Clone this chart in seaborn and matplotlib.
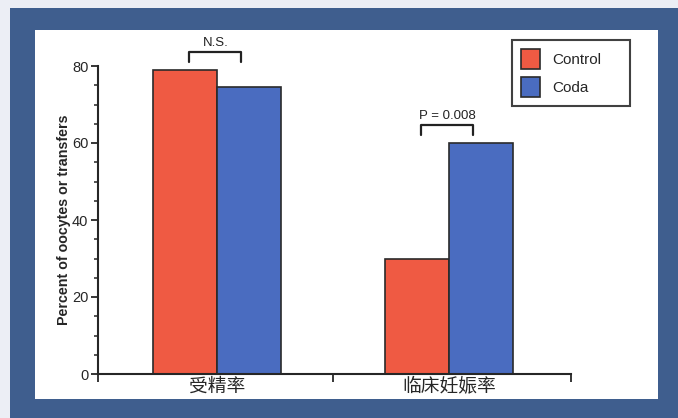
import matplotlib
matplotlib.use("Agg")
import matplotlib.pyplot as plt
from matplotlib.patches import Rectangle
from matplotlib.ticker import MultipleLocator, FixedLocator
import seaborn as sns
import pandas as pd

# data
categories = ["受精率", "临床妊娠率"]
groups = ["Control", "Coda"]
control = [79, 30]
coda = [74.5, 60]
sig_labels = ["N.S.", "P = 0.008"]

sns.set_theme(style="ticks")
plt.rcParams['font.family'] = ['Liberation Sans', 'Noto Sans CJK SC', 'DejaVu Sans']

df = pd.DataFrame({
    "cat": categories * 2,
    "group": [groups[0]] * 2 + [groups[1]] * 2,
    "value": control + coda,
})
pal = {"Control": "#ef5a43", "Coda": "#4a6cc0"}

fig = plt.figure(figsize=(6.78, 4.18), dpi=100, facecolor="#eceef5")
# blue frame and white panel behind the chart
fig.patches.append(Rectangle((10/678, 0), 1 - 10/678, 1 - 8/418, transform=fig.transFigure,
                             facecolor="#3f5e8e", edgecolor="none", zorder=-2))
fig.patches.append(Rectangle((35/678, 19/418), 623/678, 369/418, transform=fig.transFigure,
                             facecolor="white", edgecolor="none", zorder=-1))

ax = fig.add_axes([98/678, 1 - 374/418, 473/678, 308/418])
ax.set_facecolor("none")
sns.barplot(data=df, x="cat", y="value", hue="group", hue_order=groups, order=categories,
            palette=pal, width=0.55, gap=0, saturation=1, edgecolor="#2a2a2a",
            linewidth=1.2, ax=ax)

xlo, xhi = -0.513, 1.526
ax.set_xlim(xlo, xhi)
ax.set_ylim(0, 80)
ax.spines["top"].set_visible(False)
ax.spines["right"].set_visible(False)
ax.spines["left"].set_bounds(0, 80)
ax.spines["left"].set_linewidth(1.5)
ax.spines["bottom"].set_linewidth(1.5)
ax.yaxis.set_major_locator(MultipleLocator(20))
ax.yaxis.set_minor_locator(MultipleLocator(5))
ax.tick_params(axis="y", which="major", length=5, width=1.3, labelsize=10.5, pad=2)
ax.tick_params(axis="y", which="minor", length=3, width=1.1)
ax.tick_params(axis="x", which="major", length=0, labelsize=13.5, pad=3)
ax.xaxis.set_minor_locator(FixedLocator([xlo, 0.5, xhi]))
ax.tick_params(axis="x", which="minor", length=6, width=1.3, direction="out")
ax.set_xlabel("")
ax.set_ylabel("Percent of oocytes or transfers", fontsize=10.3, fontweight="bold", labelpad=1)

# significance brackets
for i, lab in enumerate(sig_labels):
    top = max(control[i], coda[i])
    x0, x1 = i - 0.12, i + 0.105
    ax.plot([x0, x0, x1, x1], [top + 2, top + 4.6, top + 4.6, top + 2],
            color="#222222", lw=1.6, clip_on=False)
    ax.text((x0 + x1) / 2, top + 6.9, lab, ha="center", va="center", fontsize=9.5,
            color="#222222", clip_on=False)

leg = ax.legend(loc="upper left", bbox_to_anchor=(512/678, 1 - 105/418, 118/678, 65/418),
                bbox_transform=fig.transFigure, mode="expand", fontsize=11, frameon=True,
                fancybox=False, handlelength=1.25, handleheight=1.6, handletextpad=0.8,
                borderpad=0.6, labelspacing=0.55, borderaxespad=0)
leg.get_frame().set_edgecolor("#111111")
leg.get_frame().set_linewidth(1.5)

fig.savefig("out.png", dpi=100, facecolor=fig.get_facecolor())
